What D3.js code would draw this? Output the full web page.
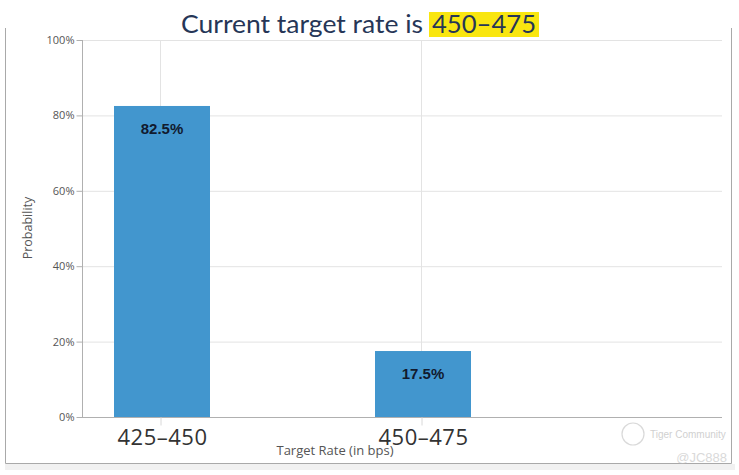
<!DOCTYPE html>
<html><head><meta charset="utf-8">
<script src="https://cdn.jsdelivr.net/npm/d3@7"></script>
<style>body{margin:0;background:#fff}svg{display:block}</style>
</head><body>
<script>
const categories = ["425–450", "450–475"];
const probabilities = [82.5, 17.5];
const valueLabels = ["82.5%", "17.5%"];
const yTicks = [0, 20, 40, 60, 80, 100];
const titleText = "Current target rate is";
const titleHighlight = "450–475";

const W = 739, H = 475;
const svg = d3.select("body").append("svg").attr("width", W).attr("height", H);

// frame
svg.append("rect").attr("x", 5).attr("y", 464).attr("width", 730).attr("height", 6).attr("fill", "#f1f1f1");
svg.append("path").attr("d", "M5.5,28 V463.5 H731.5 V28").attr("fill", "none").attr("stroke", "#a9a9a9");

const plot = {l: 82, r: 722, t: 40, b: 417};
const y = d3.scaleLinear().domain([0, 100]).range([plot.b, plot.t]);
const x = d3.scalePoint().domain(categories).range([162, 423]);
const barW = 96;

// horizontal grid
svg.append("g").selectAll("line").data(yTicks.filter(d => d > 0)).join("line")
  .attr("x1", plot.l).attr("x2", plot.r)
  .attr("y1", d => y(d) + 0.5).attr("y2", d => y(d) + 0.5)
  .attr("stroke", "#e3e3e3");
// vertical grid
svg.append("g").selectAll("line").data(categories).join("line")
  .attr("x1", d => x(d) - 1.5).attr("x2", d => x(d) - 1.5)
  .attr("y1", plot.t).attr("y2", plot.b)
  .attr("stroke", "#e3e3e3");

// y axis
const yAxis = svg.append("g").attr("transform", `translate(${plot.l + 0.5},0)`)
  .call(d3.axisLeft(y).tickValues(yTicks).tickFormat(d => d + "%").tickSize(6).tickPadding(2));
yAxis.select(".domain").attr("stroke", "#b0b0b0").attr("d", `M0,${plot.t} V${plot.b}`);
yAxis.selectAll(".tick line").attr("stroke", "#b0b0b0");
yAxis.selectAll(".tick text").attr("fill", "#555").style("font", "11px 'Open Sans', sans-serif");

// bars
svg.append("g").selectAll("rect").data(categories).join("rect")
  .attr("x", d => x(d) - barW / 2)
  .attr("width", barW)
  .attr("y", (d, i) => y(probabilities[i]))
  .attr("height", (d, i) => y(0) - y(probabilities[i]))
  .attr("fill", "#4296ce");

// value labels
svg.append("g").selectAll("text").data(categories).join("text")
  .attr("x", d => x(d))
  .attr("y", (d, i) => y(probabilities[i]) + 28)
  .attr("text-anchor", "middle")
  .attr("fill", "#111a2e")
  .style("font", "bold 15px 'Liberation Sans', Arial, sans-serif")
  .text((d, i) => valueLabels[i]);

// x axis
const xAxis = svg.append("g").attr("transform", `translate(0,${plot.b + 0.5})`)
  .call(d3.axisBottom(x).tickSize(8).tickPadding(4));
xAxis.select(".domain").attr("stroke", "#b0b0b0").attr("d", `M${plot.l},0 H${plot.r}`);
xAxis.selectAll(".tick line").attr("stroke", "#d8d8d8").attr("transform", "translate(-1.5,0)");
xAxis.selectAll(".tick text").attr("fill", "#333").attr("dy", "0").attr("y", 27)
  .style("font", "22px 'Open Sans', sans-serif").style("letter-spacing", "0.5px");

// axis titles
svg.append("text").attr("x", 335).attr("y", 455).attr("text-anchor", "middle")
  .attr("fill", "#555").style("font", "13px 'Open Sans', sans-serif").text("Target Rate (in bps)");
svg.append("text").attr("transform", "translate(32,228) rotate(-90)").attr("text-anchor", "middle")
  .attr("fill", "#555").style("font", "12.5px 'Open Sans', sans-serif").text("Probability");

// title
svg.append("rect").attr("x", 429).attr("y", 12).attr("width", 110).attr("height", 25).attr("fill", "#f9e610");
const tfont = "25px 'Lato', 'Open Sans', sans-serif";
svg.append("text").attr("x", 181).attr("y", 33)
  .attr("fill", "#263657").style("font", tfont)
  .attr("textLength", 242).attr("lengthAdjust", "spacingAndGlyphs")
  .text(titleText);
svg.append("text").attr("x", 432).attr("y", 33)
  .attr("fill", "#263657").style("font", tfont)
  .attr("textLength", 104).attr("lengthAdjust", "spacingAndGlyphs")
  .text(titleHighlight);

// watermark
const wm = svg.append("g").attr("opacity", 0.55);
wm.append("circle").attr("cx", 633).attr("cy", 434).attr("r", 11).attr("fill", "none").attr("stroke", "#bbb").attr("stroke-width", 1.2);
wm.append("text").attr("x", 650).attr("y", 438).attr("fill", "#aaa").style("font", "10px 'Liberation Sans', Arial, sans-serif").text("Tiger Community");
wm.append("text").attr("x", 727).attr("y", 462).attr("text-anchor", "end").attr("fill", "#bbb").style("font", "13px 'Liberation Sans', Arial, sans-serif").text("@JC888");
</script>
</body></html>
